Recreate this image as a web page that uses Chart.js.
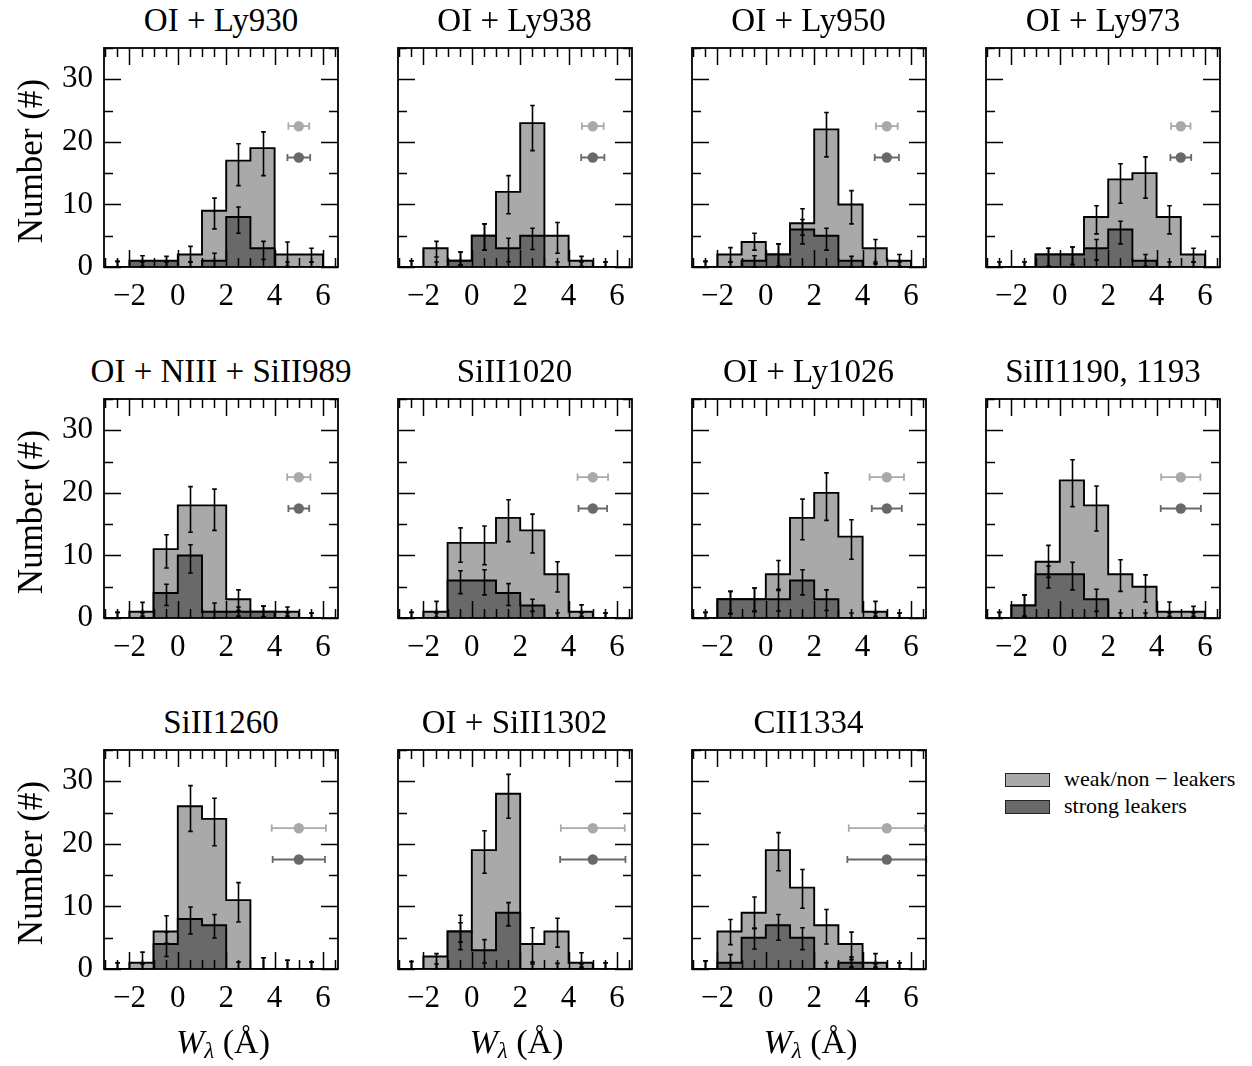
<!DOCTYPE html>
<html><head><meta charset="utf-8">
<script src="https://cdn.jsdelivr.net/npm/chart.js@4.4.1/dist/chart.umd.min.js"></script>
<style>
html,body{margin:0;padding:0;background:#fff;}
body{width:1252px;height:1066px;position:relative;overflow:hidden;font-family:'Liberation Serif','DejaVu Serif',serif;color:#000;}
canvas{position:absolute;}
.lab{position:absolute;white-space:nowrap;line-height:1;transform:translate(-50%,-50%);}
.sw{position:absolute;width:43px;height:12px;border:1px solid #222;}
.lg{position:absolute;white-space:nowrap;font-size:22px;line-height:22px;}
</style></head><body>
<script>
// ---------------- data ----------------
const binCenters = [-2.5,-1.5,-0.5,0.5,1.5,2.5,3.5,4.5,5.5];
const binEdges   = [-3,-2,-1,0,1,2,3,4,5,6];
const xTickLabels = [-2,0,2,4,6];
const yTickLabels = [0,10,20,30];
const panelTitles = ['OI + Ly930','OI + Ly938','OI + Ly950','OI + Ly973',
  'OI + NIII + SiII989','SiII1020','OI + Ly1026','SiII1190, 1193',
  'SiII1260','OI + SiII1302','CII1334'];
const seriesNames = ['weak/non − leakers','strong leakers'];

const weakCounts = [
  [0,0,0,2,9,17,19,2,2],
  [0,3,1,5,12,23,5,1,0],
  [0,2,4,2,7,22,10,3,1],
  [0,0,2,2,8,14,15,8,2],
  [0,1,11,18,18,3,1,1,0],
  [0,1,12,12,16,14,7,1,0],
  [0,3,3,7,16,20,13,1,0],
  [0,2,9,22,18,7,5,1,1],
  [0,1,6,26,24,11,0,0,0],
  [0,2,6,19,28,4,6,1,0],
  [0,6,9,19,13,7,4,1,0]
];
const weakErrLo = [
  [0,0,0,0.75,6.1,13.0,14.6,0.1,0.75],
  [0,1.6,0.3,2.7,8.5,18.6,2.2,0.1,0],
  [0,0.75,2.7,0.1,5.1,17.6,6.9,0.5,0.1],
  [0,0,0.1,0.4,5.3,10.2,11.0,5.3,0.75],
  [0,0.3,8.0,13.7,14.0,1.2,0.2,0.3,0],
  [0,0.1,8.9,8.5,12.2,10.4,4.15,0.27,0],
  [0,0.7,1.06,4.4,12.5,15.6,9.4,0.27,0],
  [0,0.27,6.5,17.8,13.9,4.25,2.55,0.27,0.27],
  [0,0,4.1,22.0,19.7,7.5,0,0,0],
  [0,0,4.3,15.3,24.1,1.1,3.5,0.3,0],
  [0,3.9,6.5,15.7,9.7,4.0,1.5,0.3,0]
];
const weakErrHi = [
  [0.9,0.8,0.8,3.3,11.0,19.7,21.6,4.0,3.0],
  [1.0,4.1,2.4,6.9,14.6,25.8,7.1,1.7,0.8],
  [0.9,3.1,5.4,3.7,9.3,24.7,12.2,4.4,2.0],
  [0.8,0.8,3.0,3.2,9.8,16.5,17.6,9.8,3.0],
  [0.9,2.5,13.3,21.0,20.6,4.5,1.9,1.75,0.8],
  [0.9,2.66,14.4,14.7,18.9,16.6,9.0,2.1,0.8],
  [0.9,4.25,4.8,9.2,19.0,23.2,15.7,2.66,0.8],
  [0.9,3.7,11.6,25.3,21.1,9.3,6.9,2.55,1.86],
  [1.0,2.7,8.5,29.3,27.3,13.8,1.8,1.4,1.1],
  [1.2,2.45,8.6,22.1,31.1,6.6,8.1,2.6,1.0],
  [1.3,7.9,11.5,21.8,15.9,9.5,5.9,2.45,1.0]
];
const strongCounts = [
  [0,1,1,0,1,8,3,0,0],
  [0,0,1,5,3,5,0,0,0],
  [0,0,1,2,6,5,1,0,0],
  [0,0,2,2,3,6,1,0,0],
  [0,0,4,10,1,1,1,0,0],
  [0,0,6,6,4,2,0,0,0],
  [0,3,3,3,6,3,0,0,0],
  [0,2,7,7,3,0,0,0,0],
  [0,0,4,8,7,0,0,0,0],
  [0,0,6,3,9,0,0,0,0],
  [0,1,5,7,5,0,1,0,0]
];
const strongErrLo = [
  [0,0.1,0,0,0,5.4,1.2,0,0],
  [0,0,0.3,2.7,0.85,2.8,0,0,0],
  [0,0,0,0.1,3.7,2.7,0,0,0],
  [0,0,0.1,0.4,1.1,3.7,0.1,0,0],
  [0,0,2.0,7.2,0,0.3,0.2,0,0],
  [0,0,3.9,3.7,2.0,1.06,0,0,0],
  [0,0.7,1.06,1.1,3.7,1.2,0,0,0],
  [0,0.27,4.8,4.5,1.06,0,0,0,0],
  [0,0,2.0,5.6,4.95,0,0,0,0],
  [0,0,3.1,0.96,6.9,0,0,0,0],
  [0,0,3.2,4.6,3.1,0,0.3,0,0]
];
const strongErrHi = [
  [0.9,1.8,1.7,0.8,2.2,9.6,4.1,0.8,0.8],
  [1.0,0.8,2.4,6.9,4.6,6.2,0.8,0.8,0.8],
  [0.9,0.8,1.8,3.7,7.6,6.2,1.7,0.8,0.8],
  [0.8,0.8,3.0,3.2,4.4,7.3,2.0,0.8,0.8],
  [0.9,0.8,5.4,11.7,2.4,1.75,1.9,0.8,0.8],
  [0.9,0.8,7.55,7.7,5.5,3.0,0.8,0.8,0.8],
  [0.9,4.25,4.8,4.6,7.7,4.5,0.8,0.8,0.8],
  [0.9,3.7,8.3,8.9,4.6,0.8,0.8,0.8,0.8],
  [1.0,0.8,5.9,9.9,8.7,1.1,1.8,1.4,1.1],
  [1.2,0.8,7.4,4.7,10.6,0.8,0.9,0.8,1.0],
  [1.3,2.3,6.5,8.7,6.6,1.0,1.9,0.8,1.0]
];
// typical measurement uncertainty markers (x = 5, with horizontal error)
const refX = 5;
const refYWeak = 22.5, refYStrong = 17.5;
const weakRefErr   = [0.43,0.45,0.45,0.40,0.48,0.63,0.71,0.81,1.12,1.32,1.57];
const strongRefErr = [0.47,0.48,0.50,0.43,0.43,0.59,0.62,0.83,1.08,1.35,1.63];

// ---------------- style / layout ----------------
const WEAK_COLOR = '#a9a9a9', STRONG_COLOR = '#696969';
const FONT = "'Liberation Serif','DejaVu Serif',serif";
const COL_L = [104, 397.5, 691.5, 986];
const ROW_T = [48, 399, 750];
const PW = 234, PH = 219;
const PADL = 100, PADT = 10, PADR = 12, PADB = 60;
const X_MIN = -3.05, X_MAX = 6.62, Y_MIN = 0, Y_MAX = 35;

function fmt(v){ return v < 0 ? '\u2212' + Math.abs(v) : String(v); }

function stepData(counts){
  const pts = [{x: binEdges[0], y: 0}];
  counts.forEach((c, j) => pts.push({x: binEdges[j], y: c}));
  pts.push({x: binEdges[binEdges.length-1], y: counts[counts.length-1]});
  pts.push({x: binEdges[binEdges.length-1], y: 0});
  return pts;
}

function panelPlugin(i){
  return {
    id: 'panelDeco' + i,
    afterDatasetsDraw(chart){
      const ctx = chart.ctx, xs = chart.scales.x, ys = chart.scales.y;
      ctx.save();
      ctx.strokeStyle = '#000'; ctx.lineWidth = 1.6;
      const sets = [[weakErrLo[i], weakErrHi[i]], [strongErrLo[i], strongErrHi[i]]];
      sets.forEach(([lo, hi]) => {
        binCenters.forEach((bc, j) => {
          const px = Math.round(xs.getPixelForValue(bc)) + 0.5;
          const y1 = ys.getPixelForValue(lo[j]), y2 = ys.getPixelForValue(hi[j]);
          ctx.beginPath();
          ctx.moveTo(px, y1); ctx.lineTo(px, y2);
          ctx.moveTo(px - 2.3, y1); ctx.lineTo(px + 2.3, y1);
          ctx.moveTo(px - 2.3, y2); ctx.lineTo(px + 2.3, y2);
          ctx.stroke();
        });
      });
      [[refYWeak, weakRefErr[i], WEAK_COLOR], [refYStrong, strongRefErr[i], STRONG_COLOR]].forEach(([yv, e, col]) => {
        const py = ys.getPixelForValue(yv);
        const xa = xs.getPixelForValue(refX - e), xb = xs.getPixelForValue(refX + e);
        ctx.strokeStyle = col; ctx.lineWidth = 1.8;
        ctx.beginPath();
        ctx.moveTo(xa, py); ctx.lineTo(xb, py);
        ctx.moveTo(xa, py - 3.6); ctx.lineTo(xa, py + 3.6);
        ctx.moveTo(xb, py - 3.6); ctx.lineTo(xb, py + 3.6);
        ctx.stroke();
        ctx.fillStyle = col;
        ctx.beginPath(); ctx.arc(xs.getPixelForValue(refX), py, 5.2, 0, Math.PI*2); ctx.fill();
      });
      ctx.restore();
    },
    afterDraw(chart){
      const ctx = chart.ctx, xs = chart.scales.x, ys = chart.scales.y, a = chart.chartArea;
      ctx.save();
      ctx.strokeStyle = '#000'; ctx.lineWidth = 1.5;
      const MAJ = 17, MIN = 9;
      for (let k = 0; k <= 19; k++){
        const v = -3 + 0.5 * k;
        const len = xTickLabels.includes(v) ? MAJ : MIN;
        const px = Math.round(xs.getPixelForValue(v)) + 0.5;
        ctx.beginPath();
        ctx.moveTo(px, a.bottom); ctx.lineTo(px, a.bottom - len);
        ctx.moveTo(px, a.top); ctx.lineTo(px, a.top + len);
        ctx.stroke();
      }
      for (let k = 0; k <= 7; k++){
        const v = 5 * k;
        const len = yTickLabels.includes(v) ? MAJ : MIN;
        const py = Math.round(ys.getPixelForValue(v)) + 0.5;
        ctx.beginPath();
        ctx.moveTo(a.left, py); ctx.lineTo(a.left + len, py);
        ctx.moveTo(a.right, py); ctx.lineTo(a.right - len, py);
        ctx.stroke();
      }
      ctx.lineWidth = 1.8;
      ctx.strokeRect(a.left, a.top, a.right - a.left, a.bottom - a.top);
      ctx.restore();
    }
  };
}

function makePanel(i){
  const r = Math.floor(i / 4), c = i % 4;
  const w = PW + PADL + PADR, h = PH + PADT + PADB;
  const cv = document.createElement('canvas');
  cv.width = w; cv.height = h;
  cv.style.width = w + 'px'; cv.style.height = h + 'px';
  cv.style.left = Math.round(COL_L[c] - PADL) + 'px';
  cv.style.top = Math.round(ROW_T[r] - PADT) + 'px';
  document.body.appendChild(cv);
  const showY = (c === 0);
  new Chart(cv, {
    type: 'line',
    data: { datasets: [
      { label: seriesNames[1], data: stepData(strongCounts[i]), stepped: 'before', fill: 'origin',
        backgroundColor: STRONG_COLOR, borderColor: '#000', borderWidth: 1.9, pointRadius: 0, order: 1 },
      { label: seriesNames[0], data: stepData(weakCounts[i]), stepped: 'before', fill: 'origin',
        backgroundColor: WEAK_COLOR, borderColor: '#000', borderWidth: 1.9, pointRadius: 0, order: 2 }
    ]},
    options: {
      responsive: false, animation: false, devicePixelRatio: 1, events: [],
      layout: { padding: { left: 0, top: PADT, right: PADR, bottom: 0 } },
      plugins: { legend: { display: false }, tooltip: { enabled: false }, title: { display: false } },
      scales: {
        x: { type: 'linear', min: X_MIN, max: X_MAX,
          afterFit(s){ s.height = PADB; s.paddingLeft = 0; s.paddingRight = 0; },
          afterBuildTicks(s){ s.ticks = xTickLabels.map(v => ({ value: v })); },
          grid: { display: false, drawTicks: false }, border: { display: false },
          ticks: { padding: 11, autoSkip: false, maxRotation: 0, color: '#000',
            font: { family: FONT, size: 31 }, callback: v => fmt(v) } },
        y: { type: 'linear', min: Y_MIN, max: Y_MAX,
          afterFit(s){ s.width = PADL; s.paddingTop = 0; s.paddingBottom = 0; },
          afterBuildTicks(s){ s.ticks = yTickLabels.map(v => ({ value: v })); },
          grid: { display: false, drawTicks: false }, border: { display: false },
          ticks: { display: showY, padding: 11, autoSkip: false, color: '#000',
            font: { family: FONT, size: 31 }, callback: v => fmt(v) } }
      }
    },
    plugins: [panelPlugin(i)]
  });

  const t = document.createElement('div');
  t.className = 'lab';
  t.style.fontSize = '33px';
  t.style.left = (COL_L[c] + PW / 2) + 'px';
  t.style.top = (ROW_T[r] - 28.5) + 'px';
  t.textContent = panelTitles[i];
  document.body.appendChild(t);
}

for (let i = 0; i < panelTitles.length; i++) makePanel(i);

ROW_T.forEach(rt => {
  const d = document.createElement('div');
  d.className = 'lab';
  d.style.fontSize = '35px';
  d.style.left = '30px';
  d.style.top = (rt + PH / 2 + 3) + 'px';
  d.style.transform = 'translate(-50%,-50%) rotate(-90deg)';
  d.textContent = 'Number (#)';
  document.body.appendChild(d);
});
[0,1,2].forEach(c => {
  const d = document.createElement('div');
  d.className = 'lab';
  d.style.fontSize = '34px';
  d.style.left = (COL_L[c] + PW / 2 + 2) + 'px';
  d.style.top = '1043px';
  d.innerHTML = '<i>W</i><sub style="font-size:23px;vertical-align:-5px"><i>λ</i></sub> (Å)';
  document.body.appendChild(d);
});
[[seriesNames[0], WEAK_COLOR, 773, 768], [seriesNames[1], STRONG_COLOR, 800, 795]].forEach(([txt, col, sy, ty]) => {
  const s = document.createElement('div');
  s.className = 'sw'; s.style.left = '1005px'; s.style.top = sy + 'px'; s.style.background = col;
  document.body.appendChild(s);
  const l = document.createElement('div');
  l.className = 'lg'; l.style.left = '1064px'; l.style.top = ty + 'px';
  l.textContent = txt;
  document.body.appendChild(l);
});
</script>
</body></html>
